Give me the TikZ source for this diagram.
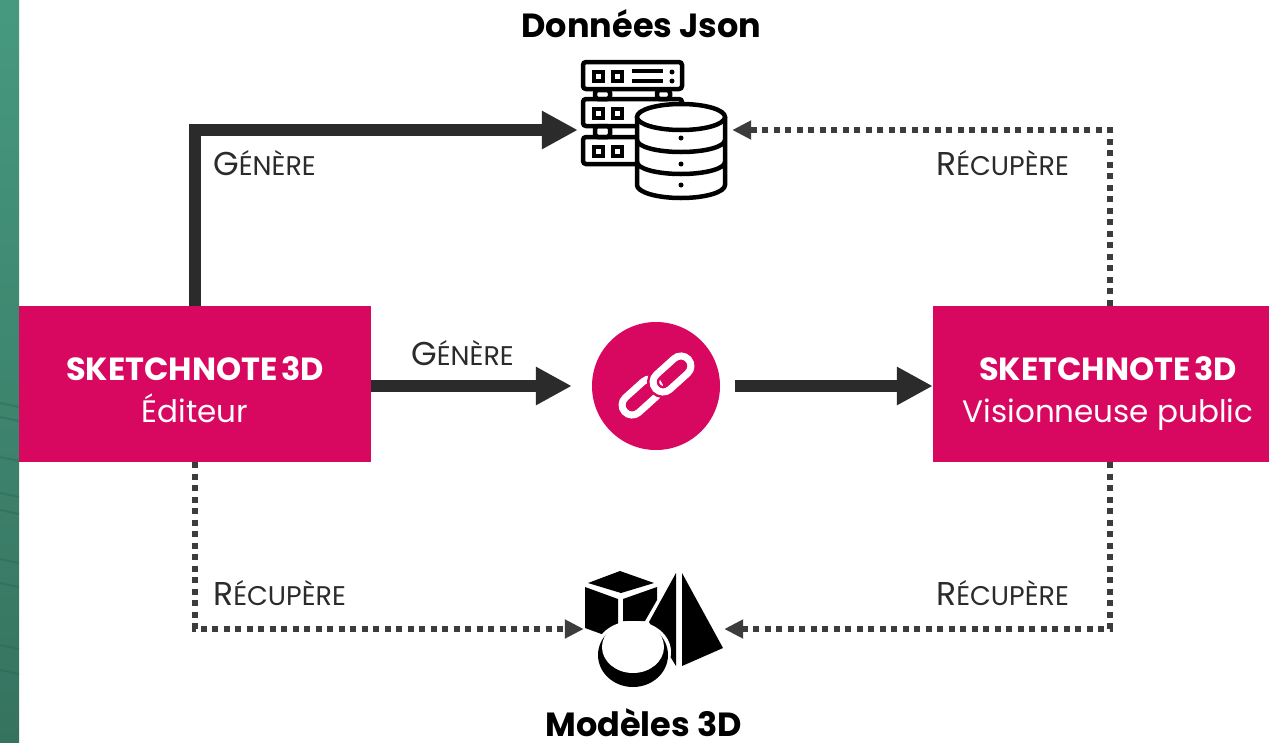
\documentclass[tikz,border=0pt]{standalone}
\usepackage{fontspec}
\setmainfont{Poppins}
\usepackage{xcolor}
\usetikzlibrary{arrows.meta}
\definecolor{sketchpink}{HTML}{D80760}
\definecolor{darkline}{HTML}{2B2B2B}
\definecolor{dotline}{HTML}{3C3C3C}
\definecolor{stripa}{HTML}{46997F}
\definecolor{stripb}{HTML}{4F9F8A}
\definecolor{stripc}{HTML}{36735F}
\newcommand{\capsmall}[2]{{\fontsize{33}{36}\selectfont #1}{\fontsize{27}{36}\selectfont #2}}
\newcommand{\boxname}{{\fontsize{32}{42}\selectfont\bfseries\spaceskip=.12em SKETCHNOTE 3D}}
\tikzset{
  appbox/.style={fill=sketchpink, minimum height=156pt, inner sep=0pt},
  apptext/.style={text=white, align=center, inner sep=0pt, font=\fontsize{31}{42}\selectfont},
  icon/.style={minimum width=#1, minimum height=130pt, inner sep=0pt},
  title/.style={font=\fontsize{33.5}{36}\selectfont\bfseries, text=black, inner sep=0pt, anchor=base},
  tag/.style={text=darkline, inner sep=0pt, anchor=base west},
  bigflow/.style={draw=darkline, line width=12pt, -{Triangle[length=36pt,width=36pt]}},
  dotflow/.style={draw=dotline, line width=5.5pt, dash pattern=on 6pt off 5.5pt, -{Triangle[length=19pt,width=18pt]}},
  ringlink/.style={draw=white, line width=7pt, rounded corners=10pt, minimum width=44pt, minimum height=20pt, rotate=42},
  unit/.style={draw=black, line width=4.5pt, rounded corners=3pt}
}
\begin{document}
\begin{tikzpicture}[x=1pt, y=-1pt]
    \useasboundingbox (0,0) rectangle (1269,742);
    \fill[white] (0,0) rectangle (1269,742);
    \shade[top color=stripa, middle color=stripb, bottom color=stripc] (0,0) rectangle (19,742);
    \foreach \wave in {403,417,457,493,510,559,583,645,670}
        \draw[stripc!85!black, line width=2pt, opacity=.4] (0,\wave) -- (19,\wave+4);

    \node (editeur) [appbox, minimum width=352pt] at (195,384) {};
    \node (visionneuse) [appbox, minimum width=336pt] at (1101,384) {};
    \node (editeurtext) [apptext] at (195,390) {\boxname\\Éditeur};
    \node (visionneusetext) [apptext] at (1108,394) {\boxname\\Visionneuse public};
    \node (lien) [circle, fill=sketchpink, minimum size=128pt, inner sep=0pt] at (656,386) {};
    \node (donnees) [icon=154pt] at (655,130) {};
    \node (modeles) [icon=140pt] at (654,629) {};
    \node (donneestitle) [title] at (641.5,37) {Données Json};
    \node (modelestitle) [title] at (643.5,736) {Modèles 3D};

    % server stack
    \foreach \top in {62,99,137} {
        \draw[unit] (583,\top) rectangle (682,\top+27);
        \foreach \left in {594,613}
            \draw[black, line width=3.5pt] (\left,\top+10) rectangle (\left+9,\top+19);
    }
    \draw[unit] (595,90) rectangle (610,99);
    \draw[unit] (657,90) rectangle (670,99);
    \draw[unit] (595,126) rectangle (610,137);
    \draw[black, line width=3.5pt] (632,71) -- (663,71) (632,81) -- (663,81);
    \fill[black] (672,72) circle (2.5pt) (672,81) circle (2.5pt);
    % cylinder
    \draw[black, fill=white, line width=4.5pt] (637,117) -- (637,185) arc[start angle=180, end angle=360, x radius=44, y radius=-13] -- (725,117);
    \draw[black, fill=white, line width=4.5pt] (681,117) ellipse (44pt and 13pt);
    \draw[black, line width=4.5pt] (637,140) arc[start angle=180, end angle=360, x radius=44, y radius=-12];
    \draw[black, line width=4.5pt] (637,162) arc[start angle=180, end angle=360, x radius=44, y radius=-12];
    \foreach \dot in {138,164,185}
        \fill[black] (681,\dot) circle (2.5pt);

    % cube, pyramid, ball
    \fill[black] (588,583) -- (620,571) -- (654,583) -- (621,593) -- cycle;
    \fill[black] (585,587) -- (618,599) -- (618,640) -- (585,628) -- cycle;
    \fill[black] (623,599) -- (657,587) -- (657,600) -- (645,621) -- (623,621) -- cycle;
    \fill[black] (676,573) -- (676,666) -- (649,622) -- cycle;
    \fill[black] (682,573) -- (723,648) -- (682,666) -- cycle;
    \fill[white] (633,652) ellipse (38pt and 31pt);
    \fill[black] (633,655) ellipse (35pt and 32pt);
    \fill[white] (633,647) ellipse (31pt and 26pt);

    % chain
    \node (ringa) [ringlink] at (641,397) {};
    \node (ringhalo) [ringlink, draw=sketchpink, line width=12pt] at (672,374) {};
    \node (ringb) [ringlink] at (672,374) {};

    \draw[bigflow] (editeur.north) |- (donnees.west);
    \draw[bigflow, shorten >=20pt] (editeur.east |- lien) -- (lien.west);
    \draw[bigflow, shorten <=15pt] (lien.east) -- (visionneuse.west |- lien);
    \draw[dotflow] ([xshift=9pt]visionneuse.north) |- (donnees.east);
    \draw[dotflow] (editeur.south) |- (modeles.west);
    \draw[dotflow] ([xshift=9pt]visionneuse.south) |- (modeles.east);

    \node (tagone) [tag] at (213,175.5) {\capsmall{G}{ÉNÈRE}};
    \node (tagtwo) [tag] at (411,365.5) {\capsmall{G}{ÉNÈRE}};
    \node (tagthree) [tag] at (936,175.5) {\capsmall{R}{ÉCUPÈRE}};
    \node (tagfour) [tag] at (213,605) {\capsmall{R}{ÉCUPÈRE}};
    \node (tagfive) [tag] at (936,605) {\capsmall{R}{ÉCUPÈRE}};
\end{tikzpicture}
\end{document}
